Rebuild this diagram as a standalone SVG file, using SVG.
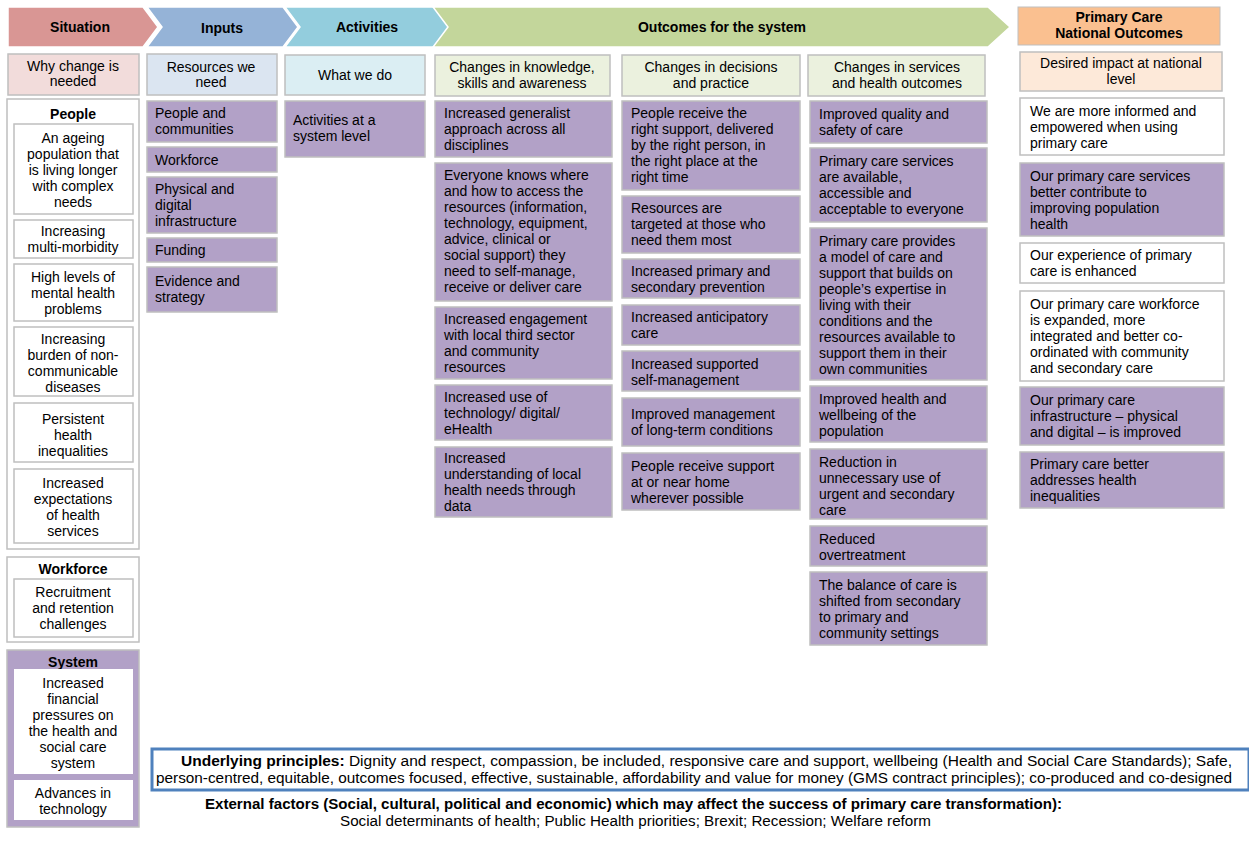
<svg xmlns="http://www.w3.org/2000/svg" width="1249" height="841" viewBox="0 0 1249 841">
<style>
text{font-family:"Liberation Sans",Arial,sans-serif;font-size:14px;fill:#000}
.h{font-weight:bold;font-size:14px}
.c{text-anchor:middle}
.b{font-weight:bold}
.p{fill:#b2a1c7;stroke:#bfbfbf;stroke-width:1.5}
.w{fill:#fff;stroke:#bfbfbf;stroke-width:1.5}
.ar{stroke:#fff;stroke-width:1.5}
</style>
<rect width="1249" height="841" fill="#fff"/>
<g id="headers">
<path class="ar" d="M8,7 H143 L158,27 L143,47 H8 Z" fill="#d99694"/>
<text class="h c" x="80" y="32">Situation</text>
<path class="ar" d="M147,7 H283 L298,27 L283,47 H147 L162,27 Z" fill="#95b3d7"/>
<text class="h c" x="222" y="33">Inputs</text>
<path class="ar" d="M285,7 H435 L450,27 L435,47 H285 L300,27 Z" fill="#93cddd"/>
<text class="h c" x="367" y="32">Activities</text>
<path class="ar" d="M433,7 H988 L1010,27 L988,47 H433 L448,27 Z" fill="#c3d69b"/>
<text class="h c" x="722" y="32">Outcomes for the system</text>
<rect x="1018" y="7" width="202" height="38" fill="#fac090" stroke="#bfbfbf"/>
<text class="h c" x="1119" y="22">Primary Care</text>
<text class="h c" x="1119" y="38">National Outcomes</text>
</g>
<g id="subheaders">
<rect x="8" y="54" width="131" height="41" fill="#f2dcdb" stroke="#bfbfbf" stroke-width="1.5"/>
<text class="c" x="73" y="71">Why change is</text><text class="c" x="73" y="86">needed</text>
<rect x="147" y="54" width="130" height="41" fill="#dbe5f1" stroke="#bfbfbf" stroke-width="1.5"/>
<text class="c" x="211" y="72">Resources we</text><text class="c" x="211" y="87">need</text>
<rect x="285" y="55" width="140" height="40" fill="#dbeef3" stroke="#bfbfbf" stroke-width="1.5"/>
<text class="c" x="355" y="80">What we do</text>
<rect x="435" y="55" width="175" height="41" fill="#ebf1de" stroke="#bfbfbf" stroke-width="1.5"/>
<text class="c" x="522" y="72">Changes in knowledge,</text><text class="c" x="522" y="88">skills and awareness</text>
<rect x="622" y="55" width="178" height="41" fill="#ebf1de" stroke="#bfbfbf" stroke-width="1.5"/>
<text class="c" x="711" y="72">Changes in decisions</text><text class="c" x="711" y="88">and practice</text>
<rect x="808" y="55" width="177" height="41" fill="#ebf1de" stroke="#bfbfbf" stroke-width="1.5"/>
<text class="c" x="897" y="72">Changes in services</text><text class="c" x="897" y="88">and health outcomes</text>
<rect x="1020" y="52" width="202" height="39" fill="#fde9d9" stroke="#bfbfbf" stroke-width="1.5"/>
<text class="c" x="1121" y="68">Desired impact at national</text><text class="c" x="1121" y="84">level</text>
</g>
<g id="situation">
<rect class="w" x="7" y="99" width="132" height="450"/>
<text class="b c" x="73" y="119">People</text>
<rect class="w" x="14" y="124" width="119" height="90"/>
<text class="c" x="73" y="143">An ageing</text><text class="c" x="73" y="159">population that</text><text class="c" x="73" y="175">is living longer</text><text class="c" x="73" y="191">with complex</text><text class="c" x="73" y="207">needs</text>
<rect class="w" x="14" y="220" width="119" height="38"/>
<text class="c" x="73" y="236">Increasing</text><text class="c" x="73" y="252">multi-morbidity</text>
<rect class="w" x="14" y="264" width="119" height="57"/>
<text class="c" x="73" y="282">High levels of</text><text class="c" x="73" y="298">mental health</text><text class="c" x="73" y="314">problems</text>
<rect class="w" x="14" y="327" width="119" height="69"/>
<text class="c" x="73" y="344">Increasing</text><text class="c" x="73" y="360">burden of non-</text><text class="c" x="73" y="376">communicable</text><text class="c" x="73" y="392">diseases</text>
<rect class="w" x="14" y="403" width="119" height="59"/>
<text class="c" x="73" y="424">Persistent</text><text class="c" x="73" y="440">health</text><text class="c" x="73" y="456">inequalities</text>
<rect class="w" x="14" y="469" width="119" height="74"/>
<text class="c" x="73" y="488">Increased</text><text class="c" x="73" y="504">expectations</text><text class="c" x="73" y="520">of health</text><text class="c" x="73" y="536">services</text>
<rect class="w" x="7" y="557" width="132" height="85"/>
<text class="b c" x="73" y="574">Workforce</text>
<rect class="w" x="14" y="579" width="119" height="58"/>
<text class="c" x="73" y="597">Recruitment</text><text class="c" x="73" y="613">and retention</text><text class="c" x="73" y="629">challenges</text>
<rect class="p" x="7" y="650" width="132" height="177"/>
<text class="b c" x="73" y="667">System</text>
<rect x="14" y="669" width="119" height="105" fill="#fff"/>
<text class="c" x="73" y="688">Increased</text><text class="c" x="73" y="704">financial</text><text class="c" x="73" y="720">pressures on</text><text class="c" x="73" y="736">the health and</text><text class="c" x="73" y="752">social care</text><text class="c" x="73" y="768">system</text>
<rect x="14" y="780" width="119" height="40" fill="#fff"/>
<text class="c" x="73" y="798">Advances in</text><text class="c" x="73" y="814">technology</text>
</g>
<g id="inputs">
<rect class="p" x="147" y="101" width="130" height="41"/>
<text x="155" y="118">People and</text><text x="155" y="134">communities</text>
<rect class="p" x="147" y="147" width="130" height="25"/>
<text x="155" y="165">Workforce</text>
<rect class="p" x="147" y="177" width="130" height="56"/>
<text x="155" y="194">Physical and</text><text x="155" y="210">digital</text><text x="155" y="226">infrastructure</text>
<rect class="p" x="147" y="238" width="130" height="24"/>
<text x="155" y="255">Funding</text>
<rect class="p" x="147" y="267" width="130" height="45"/>
<text x="155" y="286">Evidence and</text><text x="155" y="302">strategy</text>
</g>
<g id="activities">
<rect class="p" x="285" y="101" width="140" height="56"/>
<text x="293" y="125">Activities at a</text><text x="293" y="141">system level</text>
</g>
<g id="knowledge">
<rect class="p" x="435" y="101" width="177" height="56"/>
<text x="444" y="118">Increased generalist</text><text x="444" y="134">approach across all</text><text x="444" y="150">disciplines</text>
<rect class="p" x="435" y="163" width="177" height="138"/>
<text x="444" y="180">Everyone knows where</text><text x="444" y="196">and how to access the</text><text x="444" y="212">resources (information,</text><text x="444" y="228">technology, equipment,</text><text x="444" y="244">advice, clinical or</text><text x="444" y="260">social support) they</text><text x="444" y="276">need to self-manage,</text><text x="444" y="292">receive or deliver care</text>
<rect class="p" x="435" y="307" width="177" height="72"/>
<text x="444" y="324">Increased engagement</text><text x="444" y="340">with local third sector</text><text x="444" y="356">and community</text><text x="444" y="372">resources</text>
<rect class="p" x="435" y="385" width="177" height="55"/>
<text x="444" y="402">Increased use of</text><text x="444" y="418">technology/ digital/</text><text x="444" y="434">eHealth</text>
<rect class="p" x="435" y="447" width="177" height="70"/>
<text x="444" y="463">Increased</text><text x="444" y="479">understanding of local</text><text x="444" y="495">health needs through</text><text x="444" y="511">data</text>
</g>
<g id="decisions">
<rect class="p" x="622" y="101" width="178" height="89"/>
<text x="631" y="118">People receive the</text><text x="631" y="134">right support, delivered</text><text x="631" y="150">by the right person, in</text><text x="631" y="166">the right place at the</text><text x="631" y="182">right time</text>
<rect class="p" x="622" y="196" width="178" height="57"/>
<text x="631" y="213">Resources are</text><text x="631" y="229">targeted at those who</text><text x="631" y="245">need them most</text>
<rect class="p" x="622" y="259" width="178" height="39"/>
<text x="631" y="276">Increased primary and</text><text x="631" y="292">secondary prevention</text>
<rect class="p" x="622" y="305" width="178" height="40"/>
<text x="631" y="322">Increased anticipatory</text><text x="631" y="338">care</text>
<rect class="p" x="622" y="351" width="178" height="40"/>
<text x="631" y="369">Increased supported</text><text x="631" y="385">self-management</text>
<rect class="p" x="622" y="398" width="178" height="48"/>
<text x="631" y="419">Improved management</text><text x="631" y="435">of long-term conditions</text>
<rect class="p" x="622" y="453" width="178" height="57"/>
<text x="631" y="471">People receive support</text><text x="631" y="487">at or near home</text><text x="631" y="503">wherever possible</text>
</g>
<g id="services">
<rect class="p" x="810" y="101" width="177" height="42"/>
<text x="819" y="119">Improved quality and</text><text x="819" y="135">safety of care</text>
<rect class="p" x="810" y="148" width="177" height="74"/>
<text x="819" y="166">Primary care services</text><text x="819" y="182">are available,</text><text x="819" y="198">accessible and</text><text x="819" y="214">acceptable to everyone</text>
<rect class="p" x="810" y="228" width="177" height="152"/>
<text x="819" y="246">Primary care provides</text><text x="819" y="262">a model of care and</text><text x="819" y="278">support that builds on</text><text x="819" y="294">people’s expertise in</text><text x="819" y="310">living with their</text><text x="819" y="326">conditions and the</text><text x="819" y="342">resources available to</text><text x="819" y="358">support them in their</text><text x="819" y="374">own communities</text>
<rect class="p" x="810" y="386" width="177" height="56"/>
<text x="819" y="404">Improved health and</text><text x="819" y="420">wellbeing of the</text><text x="819" y="436">population</text>
<rect class="p" x="810" y="449" width="177" height="70"/>
<text x="819" y="467">Reduction in</text><text x="819" y="483">unnecessary use of</text><text x="819" y="499">urgent and secondary</text><text x="819" y="515">care</text>
<rect class="p" x="810" y="526" width="177" height="40"/>
<text x="819" y="544">Reduced</text><text x="819" y="560">overtreatment</text>
<rect class="p" x="810" y="572" width="177" height="73"/>
<text x="819" y="590">The balance of care is</text><text x="819" y="606">shifted from secondary</text><text x="819" y="622">to primary and</text><text x="819" y="638">community settings</text>
</g>
<g id="national">
<rect class="w" x="1020" y="98" width="204" height="57"/>
<text x="1030" y="116">We are more informed and</text><text x="1030" y="132">empowered when using</text><text x="1030" y="148">primary care</text>
<rect class="p" x="1020" y="163" width="204" height="73"/>
<text x="1030" y="181">Our primary care services</text><text x="1030" y="197">better contribute to</text><text x="1030" y="213">improving population</text><text x="1030" y="229">health</text>
<rect class="w" x="1020" y="243" width="204" height="40"/>
<text x="1030" y="260">Our experience of primary</text><text x="1030" y="276">care is enhanced</text>
<rect class="w" x="1020" y="291" width="204" height="90"/>
<text x="1030" y="309">Our primary care workforce</text><text x="1030" y="325">is expanded, more</text><text x="1030" y="341">integrated and better co-</text><text x="1030" y="357">ordinated with community</text><text x="1030" y="373">and secondary care</text>
<rect class="p" x="1020" y="387" width="204" height="58"/>
<text x="1030" y="405">Our primary care</text><text x="1030" y="421">infrastructure  – physical</text><text x="1030" y="437">and digital – is improved</text>
<rect class="p" x="1020" y="452" width="204" height="56"/>
<text x="1030" y="469">Primary care better</text><text x="1030" y="485">addresses health</text><text x="1030" y="501">inequalities</text>
</g>
<g id="principles">
<rect x="152" y="749" width="1097" height="41" fill="#fff" stroke="#4f81bd" stroke-width="3"/>
<text x="181" y="766" textLength="1051" lengthAdjust="spacingAndGlyphs"><tspan class="b">Underlying principles:</tspan>  Dignity and respect, compassion, be included, responsive care and support, wellbeing (Health and Social Care Standards); Safe,</text>
<text x="156" y="783" textLength="1076" lengthAdjust="spacingAndGlyphs">person-centred, equitable, outcomes focused, effective, sustainable, affordability and value for money (GMS contract principles); co-produced and co-designed</text>
</g>
<g id="external">
<text class="b" x="205" y="809" textLength="857" lengthAdjust="spacingAndGlyphs">External factors (Social, cultural, political and economic) which may affect the success of primary care transformation):</text>
<text x="340" y="826" textLength="591" lengthAdjust="spacingAndGlyphs">Social determinants of health; Public Health priorities; Brexit; Recession; Welfare reform</text>
</g>
</svg>
